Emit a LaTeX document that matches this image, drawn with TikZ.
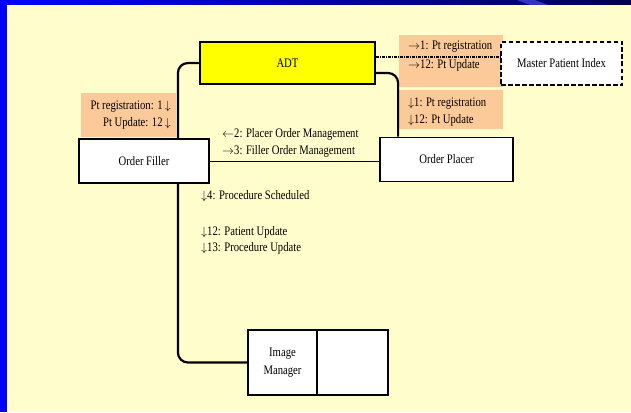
\documentclass[tikz,border=0pt]{standalone}
\usepackage{fontspec}
\setmainfont{Liberation Serif}[FakeStretch=0.82]
\usetikzlibrary{calc}
\definecolor{cream}{RGB}{255,253,204}
\definecolor{peach}{RGB}{252,202,152}
\definecolor{navy}{RGB}{0,0,80}
\definecolor{adtyellow}{RGB}{255,255,0}
\newcommand{\ra}{\ensuremath{\rightarrow}}
\newcommand{\la}{\ensuremath{\leftarrow}}
\newcommand{\da}{\ensuremath{\downarrow}}
\tikzset{
  actor/.style={draw=black, line width=1.8pt, fill=white, inner sep=0pt, font=\fontsize{13}{14}\selectfont},
  peachbox/.style={fill=peach, draw=none, inner sep=0pt},
  lbl/.style={inner sep=0pt, font=\fontsize{13}{14}\selectfont},
  conn/.style={draw=black, line width=2.2pt, rounded corners=10pt},
  thinconn/.style={draw=black, line width=1pt},
  ddconn/.style={draw=black, line width=1.2pt, dash pattern=on 3pt off 1pt on 1pt off 1pt}
}
\begin{document}
\begin{tikzpicture}[x=1pt,y=-1pt]
\useasboundingbox (0,0) rectangle (631,412);
% background
\fill[cream] (0,0) rectangle (631,412);
\fill[blue] (0,0) rectangle (7,412);
\shade[left color=blue, right color=navy] (7,0) rectangle (631,5);
\fill[blue!60!navy!80!white] (517,0) -- (535,0) -- (548,5) -- (530,5) -- cycle;
% peach label boxes
\node[peachbox, minimum width=104pt, minimum height=52pt] (pk1) at (451,61) {};
\node[peachbox, minimum width=104pt, minimum height=39pt] (pk2) at (451,109.5) {};
\node[peachbox, minimum width=95pt, minimum height=44pt] (pk3) at (128.5,115) {};
% actors
\node[actor, fill=adtyellow, minimum width=175pt, minimum height=42pt] (adt) at (287.5,63) {ADT};
\node[actor, line width=1.3pt, dash pattern=on 4.5pt off 2.5pt, minimum width=121pt, minimum height=43pt] (mpi) at (561.5,63.5) {Master Patient Index};
\node[actor, minimum width=133pt, minimum height=44pt] (oplacer) at (446.5,159.5) {Order Placer};
\node[actor, minimum width=130pt, minimum height=44pt] (ofill) at (144,161) {Order Filler};
\node[actor, minimum width=69pt, minimum height=65pt, align=center, font=\fontsize{13}{18}\selectfont] (imgL) at (282.5,362.5) {Image\\Manager};
\node[actor, minimum width=71pt, minimum height=65pt] (imgR) at (352.5,362.5) {};
% connectors
\draw[conn] (adt.west) -| ($(ofill.north east)+(-32,0)$);
\draw[conn] ($(ofill.south east)+(-32,0)$) |- (imgL.west);
\draw[conn] ($(adt.east)+(0,10)$) -| ($(oplacer.north west)+(19,0)$);
\draw[thinconn] (ofill.east) -- (ofill.east -| oplacer.west);
\coordinate (dd) at ($(adt.east)+(0,-6)$);
\draw[ddconn] (dd) -- (dd -| mpi.west);
% labels
\node[lbl, anchor=west] (t1) at (408,47) {\ra1: Pt registration};
\node[lbl, anchor=west] (t2) at (408,65) {\ra12: Pt Update};
\node[lbl, anchor=west] (t3) at (408,104) {\da1: Pt registration};
\node[lbl, anchor=west] (t4) at (408,120) {\da12: Pt Update};
\node[lbl, anchor=east] (t5) at (171,107) {Pt registration: 1\,\da};
\node[lbl, anchor=east] (t6) at (171,123) {Pt Update: 12\,\da};
\node[lbl, anchor=west] (t7) at (222,134) {\la2: Placer Order Management};
\node[lbl, anchor=west] (t8) at (222,151) {\ra3: Filler Order Management};
\node[lbl, anchor=west] (t9) at (201,196) {\da4: Procedure Scheduled};
\node[lbl, anchor=west] (t10) at (201,232) {\da12: Patient Update};
\node[lbl, anchor=west] (t11) at (201,248) {\da13: Procedure Update};
\end{tikzpicture}
\end{document}
